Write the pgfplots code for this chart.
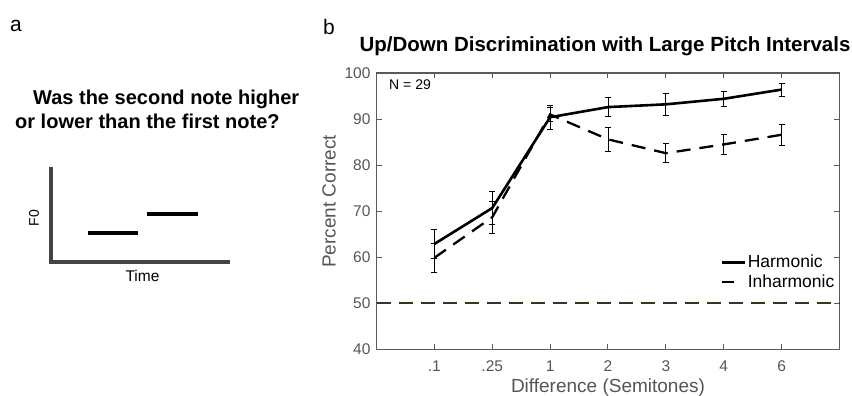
\documentclass[border=0pt]{standalone}
\usepackage{pgfplots}
\pgfplotsset{compat=1.18}
\usepackage{fontspec}
\setmainfont{Liberation Sans}
\definecolor{axgray}{HTML}{5A5A5A}
\definecolor{txtgray}{HTML}{555555}
\definecolor{chance}{HTML}{35351F}
\definecolor{schem}{HTML}{444444}
\pgfplotsset{shortleg/.style={legend image code/.code={\draw[##1] (0pt,0pt) -- (22.6pt,0pt);}}}
\begin{document}
\begin{tikzpicture}[x=1pt,y=1pt]
\path[use as bounding box] (0,0) rectangle (852,396);
% panel a
\node[anchor=base west, inner sep=0, font=\fontsize{21}{24}\selectfont] at (10,396-31.7) {a};
\node[anchor=base west, inner sep=0, font=\bfseries\fontsize{20}{24}\selectfont] at (33,396-105) {Was the second note higher};
\node[anchor=base west, inner sep=0, font=\bfseries\fontsize{20}{24}\selectfont] at (15,396-129) {or lower than the first note?};
\draw[schem, line width=4pt] (51,396-167) -- (51,396-262) -- (230,396-262);
\draw[black, line width=4pt] (88,396-233) -- (138,396-233);
\draw[black, line width=4pt] (147,396-214) -- (198,396-214);
\node[rotate=90, inner sep=0, font=\fontsize{14}{16}\selectfont] at (34,396-218) {F0};
\node[inner sep=0, font=\fontsize{15.5}{18}\selectfont] at (142.5,396-275.5) {Time};
% panel b
\node[anchor=base west, inner sep=0, font=\fontsize{21}{24}\selectfont] at (323,396-34.5) {b};
\begin{axis}[
  at={(376.5pt,46.5pt)}, anchor=south west,
  width=463pt, height=276.5pt, scale only axis,
  xmin=0, xmax=8, ymin=40, ymax=100,
  xtick={1,2,3,4,5,6,7},
  xticklabels={.1,.25,1,2,3,4,6},
  ytick={40,50,60,70,80,90,100},
  axis line style={axgray, line width=1.3pt},
  tick style={axgray, line width=1pt},
  major tick length=5pt,
  tick align=inside,
  xtick pos=both, ytick pos=both,
  /pgf/number format/assume math mode=true,
  ticklabel style={txtgray, font=\fontsize{15.5}{18}\selectfont},
  xticklabel style={anchor=base, yshift=-22pt},
  yticklabel style={xshift=-2.5pt},
  title={\textbf{Up/Down Discrimination with Large Pitch Intervals}},
  title style={at={(axis description cs:0.5,1)}, anchor=base, yshift=15.5pt, xshift=-3pt, font=\fontsize{20.5}{22}\selectfont, inner sep=0},
  xlabel={Difference (Semitones)},
  xlabel style={at={(axis description cs:0.5,-0.1573)}, anchor=base, txtgray, font=\fontsize{19}{22}\selectfont, inner sep=0},
  ylabel={Percent Correct},
  ylabel style={at={(axis description cs:-0.1026,0.536)}, anchor=center, rotate=0, txtgray, font=\fontsize{19}{22}\selectfont, inner sep=0},
  legend style={draw=none, fill=none, at={(axis description cs:0.7434,0.280)}, anchor=west, font=\fontsize{17.5}{17.5}\selectfont, row sep=2pt, inner sep=0pt, nodes={inner sep=1.7pt}},
  legend cell align=left,
  clip=false,
]
\addplot[forget plot, chance, line width=2pt, dash pattern=on 14pt off 8pt] coordinates {(0,50) (8,50)};
\addplot[forget plot, black, line width=2.3pt, dash pattern=on 14pt off 9pt,
  error bars/.cd, y dir=both, y explicit,
  error bar style={line width=0.8pt, solid},
  error mark options={line width=0.8pt, mark size=3pt, rotate=90}]
  coordinates {
  (1,59.9) +- (0,3.2)
  (2,68.7) +- (0,3.5)
  (3,91.0) +- (0,1.6)
  (4,85.6) +- (0,2.6)
  (5,82.6) +- (0,2.1)
  (6,84.5) +- (0,2.2)
  (7,86.6) +- (0,2.3)
  };
\addplot[forget plot, black, line width=2.6pt,
  error bars/.cd, y dir=both, y explicit,
  error bar style={line width=0.8pt},
  error mark options={line width=0.8pt, mark size=3pt, rotate=90}]
  coordinates {
  (1,62.9) +- (0,3.2)
  (2,70.7) +- (0,3.6)
  (3,90.4) +- (0,2.6)
  (4,92.6) +- (0,2.0)
  (5,93.2) +- (0,2.3)
  (6,94.4) +- (0,1.6)
  (7,96.4) +- (0,1.4)
  };
\addlegendimage{black, line width=2.6pt, shortleg}
\addlegendentry{Harmonic}
\addlegendimage{black, line width=2.6pt, dash pattern=on 11.6pt off 20pt, shortleg}
\addlegendentry{Inharmonic}
\node[anchor=base west, inner sep=0, font=\fontsize{14}{16}\selectfont] at (axis description cs:0.027,0.941) {N = 29};
\end{axis}
\end{tikzpicture}
\end{document}
